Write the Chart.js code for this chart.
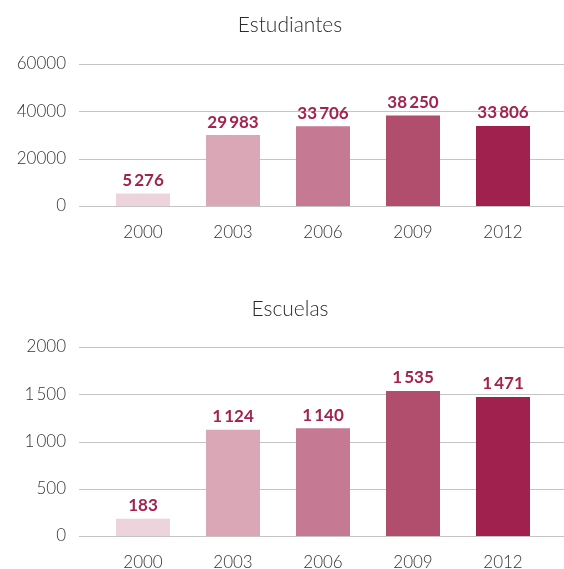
<!DOCTYPE html>
<html>
<head>
<meta charset="utf-8">
<script src="https://cdn.jsdelivr.net/npm/chart.js@4/dist/chart.umd.min.js"></script>
<style>
    html, body { margin: 0; padding: 0; background: #fff; overflow: hidden; }
    canvas { position: absolute; left: 0; display: block; }
    #est-chart { top: 0; }
    #esc-chart { top: 285px; }
</style>
</head>
<body>
<canvas id="est-chart" width="564" height="285"></canvas>
<canvas id="esc-chart" width="564" height="284"></canvas>
<script>
const years = ['2000', '2003', '2006', '2009', '2012'];
const barColors = ['#EDD3DC', '#D9A7B6', '#C57992', '#B14E6E', '#A0214E'];

const estudiantes = [5276, 29983, 33706, 38250, 33806];
const estTicks = ['0', '20000', '40000', '60000'];

const escuelas = [183, 1124, 1140, 1535, 1471];
const escTicks = ['0', '500', '1\u2009000', '1\u2009500', '2000'];

const FONT = 'Lato, "Open Sans", sans-serif';
const fmt = n => String(n).replace(/\B(?=(\d{3})+(?!\d))/g, '\u2009');

// grid lines that run past the plot, out to the page edge
const longGrid = {
    id: 'longGrid',
    beforeDatasetsDraw(chart) {
        const ctx = chart.ctx;
        const y = chart.scales.y;
        ctx.save();
        ctx.strokeStyle = '#c4c4c4';
        ctx.lineWidth = 1.2;
        y.ticks.forEach(t => {
            const py = Math.round(y.getPixelForValue(t.value)) + 0.5;
            ctx.beginPath();
            ctx.moveTo(79, py);
            ctx.lineTo(chart.width, py);
            ctx.stroke();
        });
        ctx.restore();
    }
};

const valueLabels = {
    id: 'valueLabels',
    afterDatasetsDraw(chart) {
        const ctx = chart.ctx;
        const meta = chart.getDatasetMeta(0);
        ctx.save();
        ctx.font = 'bold 17px ' + FONT;
        ctx.fillStyle = '#A3234F';
        ctx.textAlign = 'center';
        ctx.textBaseline = 'middle';
        meta.data.forEach((bar, i) => {
            ctx.fillText(fmt(chart.data.datasets[0].data[i]), bar.x, bar.y - 13);
        });
        ctx.restore();
    }
};

// title sits a little left of the plot centre, so draw it ourselves
const heading = {
    id: 'heading',
    afterDraw(chart, args, opts) {
        const ctx = chart.ctx;
        ctx.save();
        ctx.font = '300 21px ' + FONT;
        ctx.fillStyle = '#2b2b2b';
        ctx.textAlign = 'center';
        ctx.textBaseline = 'middle';
        ctx.fillText(opts.text, 290, opts.y);
        ctx.restore();
    }
};

function makeChart(id, title, titleY, values, max, step, tickLabels, areaTop, areaBottom, boxHeight) {
    return new Chart(document.getElementById(id), {
        type: 'bar',
        data: {
            labels: years,
            datasets: [{
                data: values,
                backgroundColor: barColors,
                categoryPercentage: 1,
                barPercentage: 0.6,
            }],
        },
        options: {
            responsive: false,
            animation: false,
            layout: { padding: { left: 0, right: 16, top: areaTop, bottom: 0 } },
            plugins: {
                legend: { display: false },
                tooltip: { enabled: false },
                heading: { text: title, y: titleY },
            },
            scales: {
                x: {
                    grid: { display: false },
                    border: { display: false },
                    ticks: {
                        color: '#333',
                        font: { family: FONT, size: 17, weight: '300' },
                        padding: 8,
                    },
                    afterFit: s => { s.height = boxHeight - areaBottom; },
                },
                y: {
                    min: 0,
                    max: max,
                    // invisible tick marks keep the labels away from the plot
                    grid: { display: false, drawTicks: true, tickLength: 28 },
                    border: { display: false },
                    ticks: {
                        stepSize: step,
                        color: '#333',
                        font: { family: FONT, size: 17, weight: '300' },
                        padding: 4,
                        callback: (v, i) => tickLabels[i],
                    },
                    afterFit: s => { s.width = 98; },
                },
            },
        },
        plugins: [longGrid, valueLabels, heading],
    });
}

makeChart('est-chart', 'Estudiantes', 25, estudiantes, 60000, 20000, estTicks, 64, 206, 285);
makeChart('esc-chart', 'Escuelas', 24, escuelas, 2000, 500, escTicks, 62, 251, 284);
</script>
</body>
</html>
